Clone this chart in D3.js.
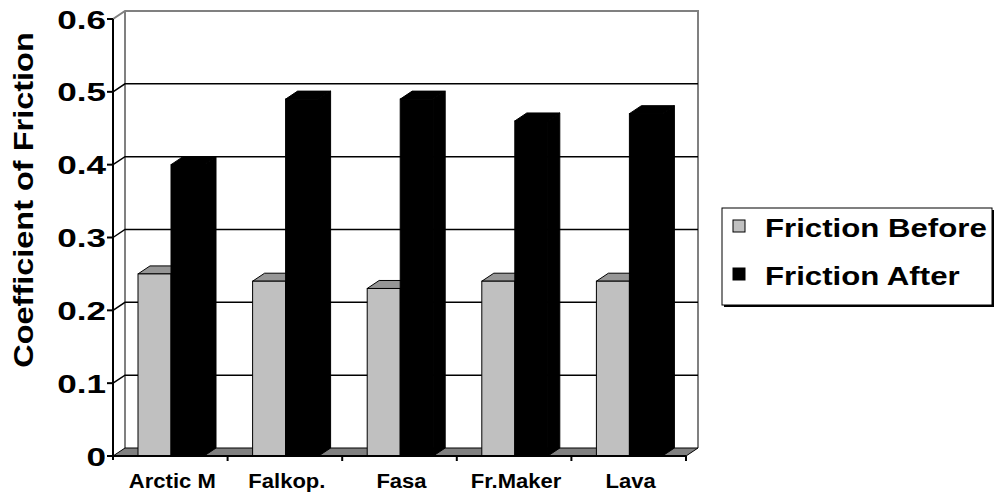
<!DOCTYPE html>
<html>
<head>
<meta charset="utf-8">
<script src="https://cdn.jsdelivr.net/npm/d3@7"></script>
<style>
  html, body { margin: 0; padding: 0; background: #fff; }
  svg { display: block; }
  text { font-family: Arial, "Liberation Sans", sans-serif; font-weight: bold; fill: #000; }
</style>
</head>
<body>
<svg id="chart" width="995" height="494"></svg>
<script>
const categories = ["Arctic M", "Falkop.", "Fasa", "Fr.Maker", "Lava"];
const seriesNames = ["Friction Before", "Friction After"];
const frictionBefore = [0.25, 0.24, 0.23, 0.24, 0.24];
const frictionAfter = [0.40, 0.49, 0.49, 0.46, 0.47];
const yTicks = [0, 0.1, 0.2, 0.3, 0.4, 0.5, 0.6];
const yTickLabels = ["0", "0.1", "0.2", "0.3", "0.4", "0.5", "0.6"];
const yTitle = "Coefficient of Friction";

const colors = { "Friction Before": "#C0C0C0", "Friction After": "#000000" };
const topColors = { "Friction Before": "#969696", "Friction After": "#000000" };

const svg = d3.select("#chart");
const x0 = 113, x1 = 686, yBase = 456, yTop = 19;
const DX = 12, DY = 8;

const x = d3.scaleBand().domain(categories).range([x0, x1]).padding(0);
const xs = d3.scaleBand().domain(seriesNames).range([25, 91]).padding(0);
const y = d3.scaleLinear().domain([0, 0.6]).range([yBase, yTop]);

const rows = categories.map((c, i) => ({ cat: c, vals: [
  { s: seriesNames[0], v: frictionBefore[i] },
  { s: seriesNames[1], v: frictionAfter[i] }
]}));

// back wall edges (gray)
const gWall = svg.append("g");
gWall.append("path")
  .attr("d", `M${x0},${y(0.6)} L${x0 + DX},${y(0.6) - DY} L${x1 + DX},${y(0.6) - DY} L${x1 + DX},${y(0) - DY}`)
  .attr("fill", "none").attr("stroke", "#808080").attr("stroke-width", 2);
gWall.append("line")
  .attr("x1", x0 + DX).attr("x2", x0 + DX).attr("y1", y(0.6) - DY).attr("y2", y(0) - DY)
  .attr("stroke", "#808080").attr("stroke-width", 2);

// gridlines on back and left walls
const gridTicks = yTicks.filter(t => t > 0 && t < 0.6);
gWall.selectAll("path.grid").data(gridTicks).join("path")
  .attr("class", "grid")
  .attr("d", t => `M${x0},${y(t)} L${x0 + DX},${y(t) - DY} L${x1 + DX},${y(t) - DY}`)
  .attr("fill", "none").attr("stroke", "#000").attr("stroke-width", 1.5);

// floor
svg.append("path")
  .attr("d", `M${x0},${y(0)} L${x1},${y(0)} L${x1 + DX},${y(0) - DY} L${x0 + DX},${y(0) - DY} Z`)
  .attr("fill", "#808080").attr("stroke", "#000").attr("stroke-width", 1);

// bars
const gBars = svg.append("g");
rows.forEach(r => {
  r.vals.forEach(d => {
    const bx = x(r.cat) + xs(d.s);
    const bw = xs.bandwidth();
    const by = y(d.v), b0 = y(0);
    const g = gBars.append("g");
    g.append("path")
      .attr("d", `M${bx + bw},${by} L${bx + bw + DX},${by - DY} L${bx + bw + DX},${b0 - DY} L${bx + bw},${b0} Z`)
      .attr("fill", d.s === seriesNames[0] ? "#808080" : "#000").attr("stroke", "#000").attr("stroke-width", 1);
    g.append("path")
      .attr("d", `M${bx},${by} L${bx + DX},${by - DY} L${bx + bw + DX},${by - DY} L${bx + bw},${by} Z`)
      .attr("fill", topColors[d.s]).attr("stroke", "#000").attr("stroke-width", 1);
    g.append("rect")
      .attr("x", bx).attr("y", by).attr("width", bw).attr("height", b0 - by)
      .attr("fill", colors[d.s]).attr("stroke", "#000").attr("stroke-width", 1);
  });
});

// axes
const gAx = svg.append("g");
gAx.append("line").attr("x1", x0).attr("x2", x0).attr("y1", y(0.6)).attr("y2", y(0) + 4)
  .attr("stroke", "#000").attr("stroke-width", 2);
gAx.append("line").attr("x1", x0).attr("x2", x1).attr("y1", y(0)).attr("y2", y(0))
  .attr("stroke", "#000").attr("stroke-width", 2);
gAx.selectAll("line.yt").data(yTicks).join("line").attr("class", "yt")
  .attr("x1", x0 - 6).attr("x2", x0).attr("y1", d => y(d)).attr("y2", d => y(d))
  .attr("stroke", "#000").attr("stroke-width", 2);
const xTickPos = categories.map(c => x(c) + x.bandwidth());
gAx.selectAll("line.xt").data(xTickPos).join("line").attr("class", "xt")
  .attr("x1", d => d).attr("x2", d => d).attr("y1", y(0)).attr("y2", y(0) + 5)
  .attr("stroke", "#000").attr("stroke-width", 2);

// y tick labels
gAx.selectAll("text.yl").data(yTicks).join("text").attr("class", "yl")
  .attr("transform", (d) => `translate(106,${y(d) + 9.5}) scale(1.35,1)`)
  .attr("text-anchor", "end").attr("font-size", 26)
  .text((d, i) => yTickLabels[i]);

// x labels
gAx.selectAll("text.xl").data(categories).join("text").attr("class", "xl")
  .attr("transform", c => `translate(${x(c) + x.bandwidth() / 2 + 2},488) scale(1.13,1)`)
  .attr("text-anchor", "middle").attr("font-size", 19.5)
  .text(c => c);

// y title
svg.append("text")
  .attr("transform", "translate(33,200) rotate(-90) scale(1.16,1)")
  .attr("text-anchor", "middle").attr("font-size", 28)
  .text(yTitle);

// legend
const lg = svg.append("g");
lg.append("rect").attr("x", 724).attr("y", 210).attr("width", 270).attr("height", 97).attr("fill", "#000");
lg.append("rect").attr("x", 722).attr("y", 208).attr("width", 270).attr("height", 97)
  .attr("fill", "#fff").attr("stroke", "#000").attr("stroke-width", 1);
const items = lg.selectAll("g.item").data(seriesNames).join("g").attr("class", "item")
  .attr("transform", (d, i) => `translate(0,${i * 48})`);
items.append("rect").attr("x", 733).attr("y", 220).attr("width", 12).attr("height", 12)
  .attr("fill", d => colors[d]).attr("stroke", "#000").attr("stroke-width", 1);
items.append("text")
  .attr("transform", "translate(765,237) scale(1.2,1)")
  .attr("font-size", 26)
  .text(d => d);
</script>
</body>
</html>
